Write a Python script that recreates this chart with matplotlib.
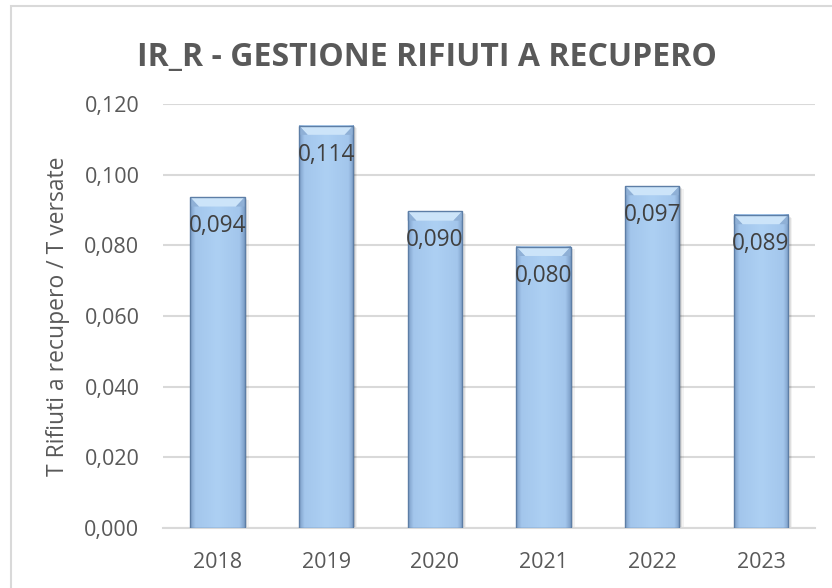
import matplotlib
matplotlib.use("Agg")
import matplotlib.pyplot as plt
import numpy as np
from matplotlib.colors import LinearSegmentedColormap
from matplotlib.patches import Rectangle, Polygon
from matplotlib.ticker import FuncFormatter, MultipleLocator

years = ['2018', '2019', '2020', '2021', '2022', '2023']
values = [0.0936, 0.1139, 0.0896, 0.0796, 0.0968, 0.0886]
title = 'IR_R - GESTIONE RIFIUTI A RECUPERO'
ylabel = 'T Rifiuti a recupero / T versate'

plt.rcParams['font.family'] = ['Open Sans', 'DejaVu Sans']

fig = plt.figure(figsize=(8.32, 5.88), dpi=100)
ax = fig.add_axes([0.196, 0.102, 0.784, 0.721])

x = np.arange(len(years))
bars = ax.bar(x, values, width=0.5, color='none', edgecolor='#5d7ea6', linewidth=1.0, zorder=4)

# excel-like cylinder fill
cmap = LinearSegmentedColormap.from_list('barfill', [(0, '#7b9dc6'), (0.1, '#a3c6ec'),
                                                      (0.5, '#add0f3'), (0.9, '#a3c6ec'), (1, '#7b9dc6')])
grad = np.linspace(0, 1, 256).reshape(1, -1)
bh = 0.0026
bi = 0.08
for b in bars:
    x0, w, h = b.get_x(), b.get_width(), b.get_height()
    # soft shadow
    for off, a in [(0.012, 0.12), (0.025, 0.08), (0.038, 0.05)]:
        ax.add_patch(Rectangle((x0 + off, 0), w, h - off * 0.02, facecolor='#000000',
                               edgecolor='none', alpha=a, zorder=2))
    ax.imshow(grad, cmap=cmap, extent=(x0, x0 + w, 0, h), aspect='auto', zorder=3)
    ax.add_patch(Polygon([(x0, h), (x0 + w, h), (x0 + w - bi, h - bh), (x0 + bi, h - bh)],
                         facecolor='#cce4f9', edgecolor='none', zorder=3.5))
    ax.add_patch(Polygon([(x0, h), (x0 + bi, h - bh), (x0, h - bh)],
                         facecolor='#8fb0d6', edgecolor='none', zorder=3.5))
    ax.add_patch(Polygon([(x0 + w, h), (x0 + w - bi, h - bh), (x0 + w, h - bh)],
                         facecolor='#8fb0d6', edgecolor='none', zorder=3.5))

for xi, v in zip(x, values):
    ax.text(xi, v - 0.0082, f'{v:.3f}'.replace('.', ','), ha='center', va='center',
            fontsize=16.3, color='#404040', zorder=5)

ax.set_xlim(-0.5, len(years) - 0.5)
ax.set_ylim(0, 0.12)
ax.set_xticks(x)
ax.set_xticklabels(years)
ax.yaxis.set_major_locator(MultipleLocator(0.02))
ax.yaxis.set_major_formatter(FuncFormatter(lambda v, p: f'{v:.3f}'.replace('.', ',')))
ax.tick_params(length=0, labelsize=15.5, labelcolor='#595959')
ax.tick_params(axis='y', pad=17)
ax.tick_params(axis='x', pad=17)
ax.grid(axis='y', color='#d9d9d9', linewidth=1.5, zorder=0)
ax.set_axisbelow(True)
for s in ['left', 'right', 'top']:
    ax.spines[s].set_visible(False)
ax.spines['bottom'].set_color('#d9d9d9')
ax.spines['bottom'].set_linewidth(1.5)

ax.set_ylabel(ylabel, fontsize=16.5, color='#595959', labelpad=10)
fig.text(0.513, 0.903, title, ha='center', va='center', fontsize=23, fontweight='bold', color='#595959')

fig.add_artist(Rectangle((11 / 832, -0.1), 1.2, 1.1 - 6 / 588, transform=fig.transFigure,
                         fill=False, edgecolor='#d9d9d9', linewidth=1.5))

fig.savefig('out.png', dpi=100)
